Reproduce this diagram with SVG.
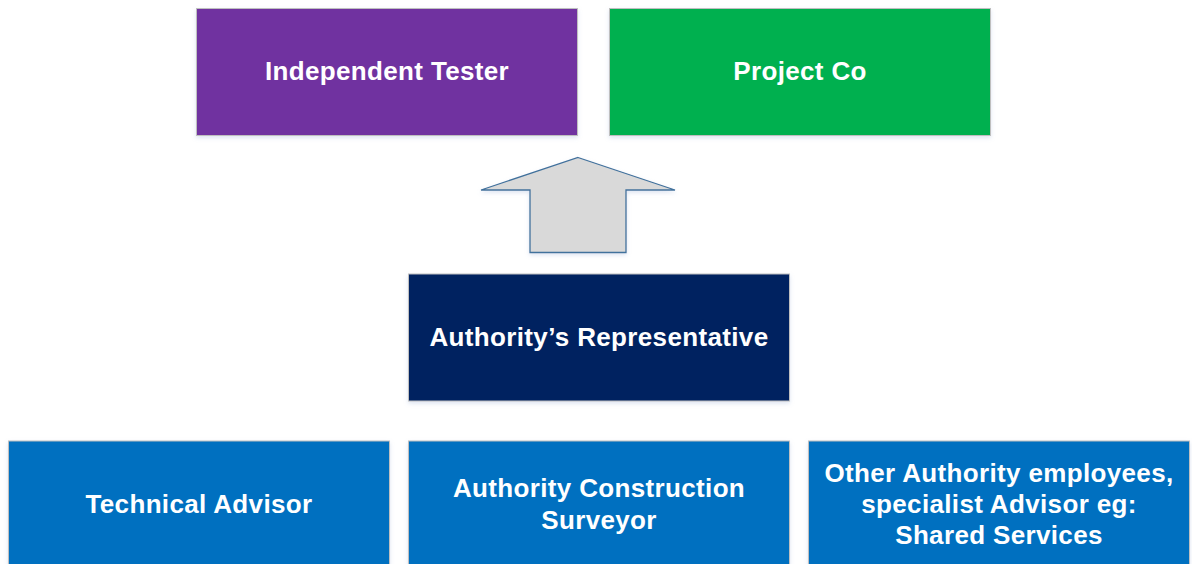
<svg xmlns="http://www.w3.org/2000/svg" width="1192" height="564" viewBox="0 0 1192 564">
<defs>
<filter id="sh" x="-5%" y="-10%" width="110%" height="125%">
<feDropShadow dx="0" dy="2" stdDeviation="2" flood-color="#9fb4d8" flood-opacity="0.35"/>
</filter>
<style>
.box{stroke:#bfbfbf;stroke-width:1;filter:url(#sh)}
.lbl{font-family:"Liberation Sans",Arial,sans-serif;font-weight:bold;font-size:26px;fill:#ffffff;text-anchor:middle;letter-spacing:0.35px}
</style>
</defs>
<rect width="1192" height="564" fill="#ffffff"/>
<g id="independent-tester">
<rect class="box" x="196.5" y="8.5" width="381" height="127" fill="#7030A0"/>
<text class="lbl" x="387" y="80">Independent Tester</text>
</g>
<g id="project-co">
<rect class="box" x="609.5" y="8.5" width="381" height="127" fill="#00B050"/>
<text class="lbl" x="800" y="80">Project Co</text>
</g>
<g id="connectors">
<path d="M578,157.5 L675,190 L626,190 L626,252.5 L530,252.5 L530,190 L481,190 Z" fill="#D9D9D9" stroke="#41719C" stroke-width="1.3" stroke-linejoin="miter" filter="url(#sh)"/>
</g>
<g id="authority-representative">
<rect class="box" x="408.5" y="274" width="381" height="127" fill="#002060"/>
<text class="lbl" x="599" y="346">Authority’s Representative</text>
</g>
<g id="technical-advisor">
<rect class="box" x="8.5" y="441" width="381" height="128" fill="#0070C0"/>
<text class="lbl" x="199" y="513">Technical Advisor</text>
</g>
<g id="authority-construction-surveyor">
<rect class="box" x="408.5" y="441" width="381" height="128" fill="#0070C0"/>
<text class="lbl" x="599" y="497">Authority Construction</text>
<text class="lbl" x="599" y="529">Surveyor</text>
</g>
<g id="other-authority-employees">
<rect class="box" x="808.5" y="441" width="381" height="128" fill="#0070C0"/>
<text class="lbl" x="999" y="482">Other Authority employees,</text>
<text class="lbl" x="999" y="513">specialist Advisor eg:</text>
<text class="lbl" x="999" y="544">Shared Services</text>
</g>
</svg>
